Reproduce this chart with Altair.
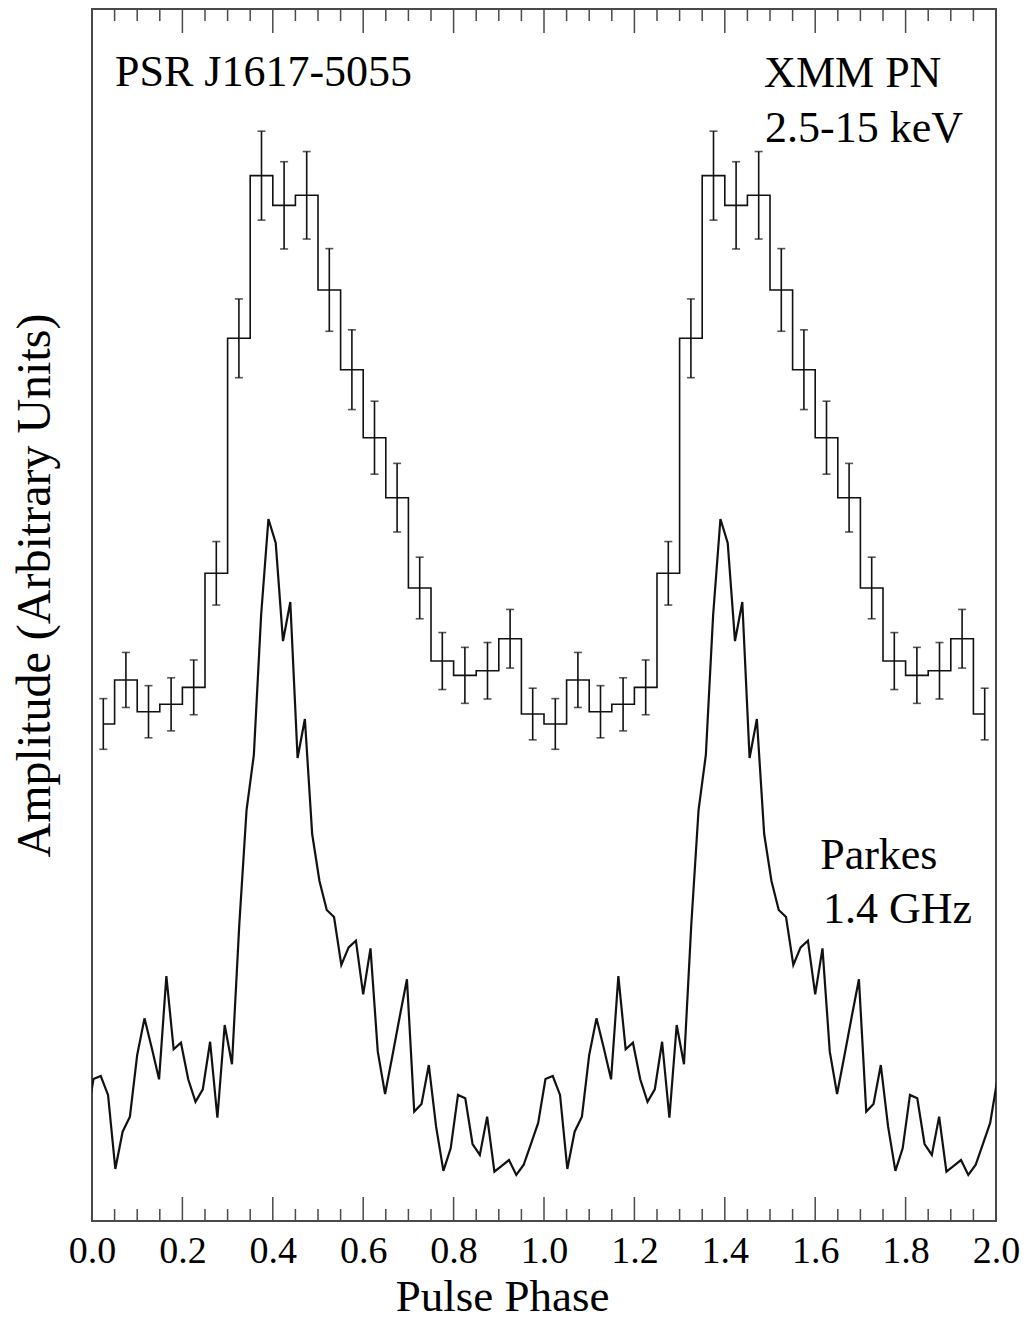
import altair as alt
import pandas as pd

# ---------------- data ----------------
# XMM PN 2.5-15 keV pulse profile: 20 phase bins per cycle (arbitrary units)
xray_level = [41.01, 44.64, 42.02, 42.63, 44.03, 53.44, 72.83, 86.25, 83.80, 84.63,
              76.82, 70.24, 64.63, 59.68, 52.23, 46.20, 45.02, 45.40, 48.04, 41.83]
xray_err = [2.09, 2.27, 2.15, 2.19, 2.26, 2.62, 3.25, 3.67, 3.60, 3.61,
            3.41, 3.29, 3.01, 2.83, 2.54, 2.35, 2.31, 2.33, 2.42, 2.13]
xray_bins = 20

# Parkes 1.4 GHz profile: 62 samples per cycle (arbitrary units)
radio_amp = [11.72, 11.96, 10.40, 4.29, 7.37, 8.61, 13.70, 16.72, 14.27, 11.69,
             20.21, 14.17, 14.71, 11.69, 9.84, 10.87, 14.79, 8.52, 16.17, 12.93,
             24.42, 33.91, 38.45, 50.00, 57.92, 55.94, 47.85, 51.07, 38.20, 41.42,
             31.93, 28.05, 25.66, 25.08, 21.12, 22.58, 23.13, 18.70, 22.50, 13.97,
             10.48, 13.61, 16.83, 19.94, 9.03, 9.65, 12.87, 7.78, 4.13, 6.00,
             10.40, 10.12, 6.35, 5.45, 8.61, 4.07, 4.54, 5.03, 3.80, 4.62,
             6.35, 8.09]
radio_bins = 62
radio_start = 0.2  # sample offset within a bin

major_ticks = [0.0, 0.2, 0.4, 0.6, 0.8, 1.0, 1.2, 1.4, 1.6, 1.8, 2.0]
minor_ticks = [round(i * 0.05, 2) for i in range(41) if i % 4 != 0]

labels = ["PSR J1617-5055", "XMM PN", "2.5-15 keV", "Parkes", "1.4 GHz"]
label_phase = [0.051, 1.487, 1.489, 1.611, 1.617]
label_amp = [93.65, 93.6, 89.05, 29.04, 24.59]

# ---------------- tables ----------------
xr_rows = []
for cyc in (0, 1):
    for i, (lv, er) in enumerate(zip(xray_level, xray_err)):
        xr_rows.append({"phase": cyc + (i + 0.5) / xray_bins, "amp": lv,
                        "lo": lv - er, "hi": lv + er})
xray = pd.DataFrame(xr_rows)

rd_rows = []
for idx in range(-1, 2 * radio_bins + 1):
    rd_rows.append({"phase": (idx + radio_start) / radio_bins,
                    "amp": radio_amp[idx % radio_bins]})
radio = pd.DataFrame(rd_rows)

ticks_major = pd.DataFrame({"phase": major_ticks})
ticks_minor = pd.DataFrame({"phase": minor_ticks})
ann = pd.DataFrame({"phase": label_phase, "amp": label_amp, "text": labels})

W, H = 904, 1212
FONT = "Liberation Serif"
INK = "#111111"
FRAME = "#4a4a4a"

xscale = alt.Scale(domain=[0, 2], nice=False, zero=False)
yscale = alt.Scale(domain=[0, 100], nice=False, zero=False)
xaxis = alt.Axis(values=major_ticks, format=".1f", ticks=False, domain=False, grid=False,
                 labelFontSize=38, labelPadding=11, labelColor="black", labelFlush=False,
                 labelOverlap=False,
                 title="Pulse Phase", titleFontSize=45, titleFontWeight="normal",
                 titleColor="black", titleX=410, titleY=89, titleBaseline="alphabetic")
yaxis = alt.Axis(labels=False, ticks=False, domain=False, grid=False,
                 title="Amplitude (Arbitrary Units)", titleFontSize=48,
                 titleFontWeight="normal", titleColor="black",
                 titleAngle=270, titleBaseline="middle", titleX=-57, titleY=576)

X = alt.X("phase:Q", scale=xscale, axis=xaxis)

hist = alt.Chart(xray).mark_line(interpolate="step", color=INK, strokeWidth=1.6).encode(
    x=X, y=alt.Y("amp:Q", scale=yscale, axis=yaxis))
err = alt.Chart(xray).mark_rule(color=INK, strokeWidth=1.6).encode(
    x=X, y=alt.Y("lo:Q", scale=yscale, axis=yaxis), y2="hi:Q")
cap_lo = alt.Chart(xray).mark_tick(orient="horizontal", color=INK, size=8, thickness=1.6).encode(
    x=X, y=alt.Y("lo:Q", scale=yscale, axis=yaxis))
cap_hi = alt.Chart(xray).mark_tick(orient="horizontal", color=INK, size=8, thickness=1.6).encode(
    x=X, y=alt.Y("hi:Q", scale=yscale, axis=yaxis))
rad = alt.Chart(radio).mark_line(color=INK, strokeWidth=2.2, clip=True).encode(
    x=X, y=alt.Y("amp:Q", scale=yscale, axis=yaxis), order="phase:Q")

tb_major = alt.Chart(ticks_major).mark_rule(color=FRAME, strokeWidth=1.5).encode(
    x=X, y=alt.value(H), y2=alt.value(H - 24))
tt_major = alt.Chart(ticks_major).mark_rule(color=FRAME, strokeWidth=1.5).encode(
    x=X, y=alt.value(0), y2=alt.value(24))
tb_minor = alt.Chart(ticks_minor).mark_rule(color=FRAME, strokeWidth=1.5).encode(
    x=X, y=alt.value(H), y2=alt.value(H - 12))
tt_minor = alt.Chart(ticks_minor).mark_rule(color=FRAME, strokeWidth=1.5).encode(
    x=X, y=alt.value(0), y2=alt.value(12))

text = alt.Chart(ann).mark_text(align="left", baseline="alphabetic", font=FONT,
                                fontSize=44, color="black").encode(
    x=X, y=alt.Y("amp:Q", scale=yscale, axis=yaxis), text="text:N")

chart = alt.layer(tb_major, tt_major, tb_minor, tt_minor, err, cap_lo, cap_hi, hist, rad, text).properties(
    width=W, height=H,
    autosize=alt.AutoSizeParams(type="none"),
    padding={"left": 84, "top": 1, "right": 27, "bottom": 100},
    background="white",
).configure_view(stroke=FRAME, strokeWidth=2).configure_axis(
    labelFont=FONT, titleFont=FONT)

chart.save("out.html", embed_options={"renderer": "svg", "actions": False})
